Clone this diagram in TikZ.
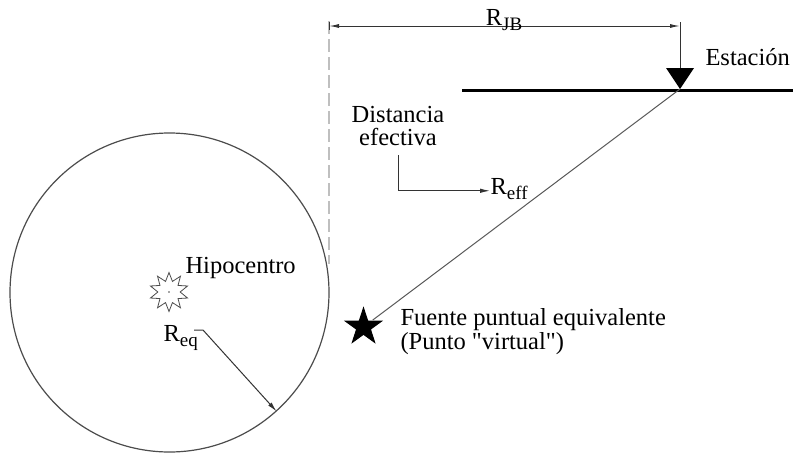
\documentclass[tikz,border=0pt]{standalone}
\usepackage{fontspec}
\setmainfont{Liberation Serif}[Ligatures=TeXOff]
\usetikzlibrary{arrows.meta,shapes.geometric}
\newcommand{\mysub}[1]{\raisebox{-0.22em}{\fontsize{19}{19}\selectfont #1}}
\begin{document}
\begin{tikzpicture}[x=1pt,y=-1pt,line width=1pt,
  txt/.style={inner sep=0pt,font=\fontsize{24.5}{23.5}\selectfont},
  tip/.style={-{Latex[length=10pt,width=4.5pt]}},
  dimtips/.style={{Latex[length=10pt,width=4pt]}-{Latex[length=10pt,width=4pt]}}
]
\useasboundingbox (0,0) rectangle (793,453);
\fill[white] (0,0) rectangle (793,453);

% circle of equivalent radius
\node[circle,draw=black!70,line width=1.2pt,minimum size=319pt,inner sep=0pt] (circ) at (169.5,292.5) {};

% tangent dashed line
\coordinate (dtop) at (329,21);
\coordinate (dbot) at (329,264);
\draw[black!25,line width=1.3pt,dash pattern=on 13pt off 5pt] (dtop) -- (dbot);

% station
\coordinate (sta) at (680,89);
\coordinate (stop) at (680,22);
\coordinate (dleft) at (329,26);
\coordinate (dright) at (680,26);
\fill[black] (666,68) -- (694,68) -- (sta) -- cycle;
\draw[black!80,line width=1pt] (stop) -- (680,68);
\coordinate (gl) at (462,90);
\coordinate (gr) at (793,90);
\draw[black,line width=3pt] (gl) -- (gr);
\draw[black!80,line width=1pt] (329,22) -- (329,30);
\draw[dimtips,black!80,line width=1pt] (dleft) -- (dright);
\node[txt,anchor=base] (rjb) at (504,25) {R\mysub{JB}};
\node[txt,anchor=base west] (est) at (705,65) {Estación};

% equivalent point source
\node[star,star points=5,star point ratio=2.618,fill=black,draw=black,minimum size=38pt,inner sep=0pt] (src) at (363.5,327) {};
\draw[black!65,line width=1pt,shorten >=1pt] (sta) -- (src);
\node[txt,anchor=north west,align=left] (fuente) at (400,308) {Fuente puntual equivalente\\(Punto "virtual")};

% effective distance
\node[txt,anchor=north,align=center] (dist) at (398,105.3) {Distancia\\efectiva};
\coordinate (dstart) at (398,155);
\node[txt,anchor=base west] (reff) at (490,194) {R\mysub{eff}};
\draw[tip,black!80] (dstart) |- ([yshift=-2pt]reff.west);

% hypocentre
\node[star,star points=10,star point ratio=1.75,draw=black!70,line width=0.8pt,minimum size=39pt,inner sep=0pt] (hypo) at (169,292) {};
\fill[black!70] (hypo.center) circle[radius=0.8pt];
\node[txt,anchor=base west] (hip) at (185,273) {Hipocentro};

% equivalent radius
\node[txt,anchor=base west] (req) at (163,341) {R\mysub{eq}};
\coordinate (reqs) at (194,330);
\coordinate (reqk) at (203,330);
\draw[tip,black!80] (reqs) -- (reqk) -- (circ.-48.6);
\end{tikzpicture}
\end{document}
